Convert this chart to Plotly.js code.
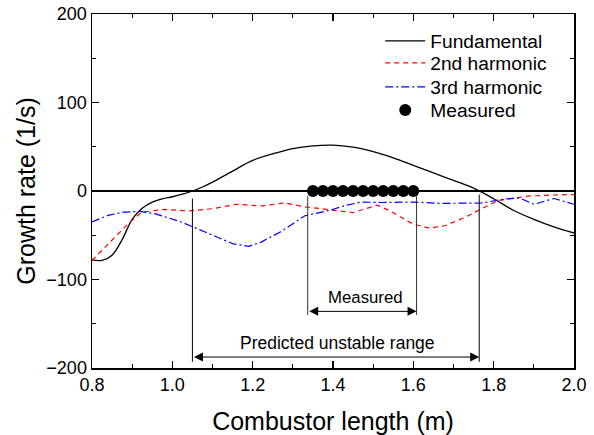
<!DOCTYPE html>
<html>
<head>
<meta charset="utf-8">
<script src="https://cdn.plot.ly/plotly-3.0.1.min.js"></script>
<style>html,body{margin:0;padding:0;background:#fff;}#chart{width:594px;height:435px;}</style>
</head>
<body>
<div id="chart"></div>
<script>
// Fundamental mode growth rate
const fundX = [0.80,0.825,0.85,0.875,0.90,0.925,0.95,0.975,1.00,1.025,1.05,1.075,1.10,1.15,1.20,1.25,1.30,1.35,1.40,1.45,1.50,1.55,1.60,1.65,1.70,1.75,1.80,1.85,1.90,1.95,2.00];
const fundY = [-77.8,-78.3,-72.5,-55,-32,-19.5,-12.5,-8.8,-6.5,-3.5,0,4.5,10,22.5,34.5,42,48,51,51.8,49.5,44.5,37.5,29,20.4,12,3.2,-8.7,-22,-32,-40.5,-47.5];
// 2nd harmonic
const h2X = [0.80,0.84,0.89,0.923,0.98,1.04,1.10,1.16,1.22,1.28,1.33,1.37,1.42,1.45,1.51,1.54,1.60,1.64,1.68,1.73,1.77,1.81,1.85,1.89,1.95,2.00];
const h2Y = [-78.5,-60,-37,-24,-20.8,-22.6,-20,-15,-17,-13.5,-18,-20,-23,-24.5,-16,-22,-37.5,-42,-39,-29.5,-20,-11,-8,-5.6,-4.5,-4];
// 3rd harmonic
const h3X = [0.80,0.84,0.88,0.92,0.956,1.022,1.08,1.15,1.19,1.22,1.27,1.33,1.39,1.43,1.47,1.52,1.60,1.67,1.77,1.83,1.865,1.90,1.95,2.00];
const h3Y = [-35,-27.5,-23.8,-23,-25.6,-35,-46,-59.5,-62.5,-58,-46,-28,-22,-16.5,-12.5,-13,-12.5,-14,-13.5,-9,-8,-15,-8.5,-15];
// Measured unstable lengths
const measX = [1.35,1.375,1.40,1.425,1.45,1.475,1.50,1.525,1.55,1.575,1.60];
const measY = [0,0,0,0,0,0,0,0,0,0,0];
// Range markers
const predictedRange = [1.05, 1.764];
const measuredRange = [1.337, 1.608];
const seriesNames = ["Fundamental","2nd harmonic","3rd harmonic","Measured"];
const labels = ["Measured","Predicted unstable range"];

const FONT = 'Arial, "Liberation Sans", sans-serif';

const traces = [
  {x: fundX, y: fundY, name: seriesNames[0], legend: 'legend', mode: 'lines', line: {color: '#000', width: 1.3, shape: 'spline', smoothing: 1}},
  {x: h2X, y: h2Y, name: seriesNames[1], legend: 'legend2', mode: 'lines', line: {color: '#ff0000', width: 1.2, dash: '5px,4px'}},
  {x: h3X, y: h3Y, name: seriesNames[2], legend: 'legend3', mode: 'lines', line: {color: '#0000ff', width: 1.2, dash: '8px,3px,2px,3px'}},
  {x: measX, y: measY, name: seriesNames[3], legend: 'legend4', mode: 'markers', marker: {color: '#000', size: 12}}
];

const shapes = [
  {type:'line', xref:'x', yref:'y', x0: predictedRange[0], x1: predictedRange[0], y0: -8.6, y1: -193, line:{color:'#000', width:1}},
  {type:'line', xref:'x', yref:'y', x0: predictedRange[1], x1: predictedRange[1], y0: -4, y1: -193, line:{color:'#000', width:1}},
  {type:'line', xref:'x', yref:'y', x0: measuredRange[0], x1: measuredRange[0], y0: -6, y1: -140, line:{color:'#333', width:1}},
  {type:'line', xref:'x', yref:'y', x0: measuredRange[1], x1: measuredRange[1], y0: -6, y1: -140, line:{color:'#333', width:1}}
];

const annotations = [
  {x: measuredRange[1], y: -136, ax: measuredRange[0], ay: -136, xref:'x', yref:'y', axref:'x', ayref:'y',
   showarrow:true, arrowhead:2, arrowside:'end+start', arrowsize:1.8, arrowwidth:1, arrowcolor:'#000', standoff:0, startstandoff:0, text:''},
  {x: predictedRange[1], y: -187.6, ax: predictedRange[0], ay: -187.6, xref:'x', yref:'y', axref:'x', ayref:'y',
   showarrow:true, arrowhead:2, arrowside:'end+start', arrowsize:1.8, arrowwidth:1, arrowcolor:'#000', standoff:0, startstandoff:0, text:''},
  {x: 1.48, y: -120, xref:'x', yref:'y', text: labels[0], showarrow:false, font:{family:FONT, size:16.8, color:'#000'}},
  {x: 1.412, y: -172, xref:'x', yref:'y', text: labels[1], showarrow:false, font:{family:FONT, size:17.5, color:'#000'}}
];

function legendAt(yp) {
  return {x: 0.598, y: yp, xanchor: 'left', yanchor: 'middle', bgcolor: 'rgba(0,0,0,0)', borderwidth: 0,
          itemwidth: 40, font: {family: FONT, size: 19.2, color: '#000'}};
}

const layout = {
  width: 594, height: 435,
  margin: {l: 92, r: 20, t: 14, b: 67, pad: 0},
  paper_bgcolor: '#fff', plot_bgcolor: '#fff',
  font: {family: FONT, color: '#000'},
  showlegend: true,
  legend: legendAt(0.924),
  legend2: legendAt(0.862),
  legend3: legendAt(0.794),
  legend4: legendAt(0.729),
  xaxis: {
    range: [0.8, 2.0], dtick: 0.2, tick0: 0.8, tickformat: '.1f',
    ticks: 'inside', ticklen: 7, tickwidth: 1.2, tickcolor: '#000',
    minor: {dtick: 0.1, ticks: 'inside', ticklen: 4, tickwidth: 1.2, tickcolor: '#000'},
    showline: true, linecolor: '#000', linewidth: 1.5, mirror: 'ticks',
    showgrid: false, zeroline: false,
    tickfont: {family: FONT, size: 18, color: '#000'},
    title: {text: 'Combustor length (m)', font: {family: FONT, size: 25, color: '#000'}, standoff: 19}
  },
  yaxis: {
    range: [-200, 200], dtick: 100, tick0: 0,
    ticks: 'inside', ticklen: 7, tickwidth: 1.2, tickcolor: '#000',
    minor: {dtick: 50, ticks: 'inside', ticklen: 4, tickwidth: 1.2, tickcolor: '#000'},
    showline: true, linecolor: '#000', linewidth: 1.5, mirror: 'ticks',
    showgrid: false, zeroline: true, zerolinecolor: '#000', zerolinewidth: 1.3,
    tickfont: {family: FONT, size: 18, color: '#000'},
    title: {text: 'Growth rate (1/s)', font: {family: FONT, size: 25, color: '#000'}, standoff: 3}
  },
  shapes: shapes,
  annotations: annotations
};

Plotly.newPlot('chart', traces, layout, {displayModeBar: false, staticPlot: true});
</script>
</body>
</html>
